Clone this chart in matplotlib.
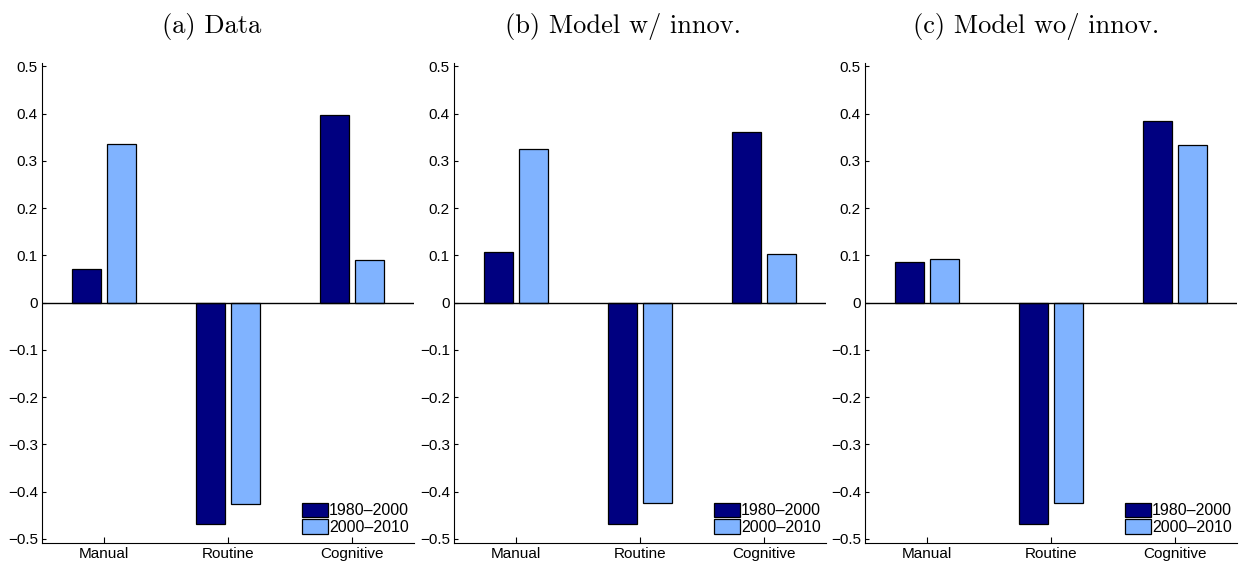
import numpy as np
import matplotlib.pyplot as plt

plt.rcParams['font.family'] = ['Liberation Sans', 'DejaVu Sans']

categories = ['Manual', 'Routine', 'Cognitive']
series = ['1980–2000', '2000–2010']
titles = ['(a) Data', '(b) Model w/ innov.', '(c) Model wo/ innov.']
yticks = [-0.5, -0.4, -0.3, -0.2, -0.1, 0, 0.1, 0.2, 0.3, 0.4, 0.5]
ytick_labels = ['\u22120.5', '\u22120.4', '\u22120.3', '\u22120.2', '\u22120.1', '0',
                '0.1', '0.2', '0.3', '0.4', '0.5']

data_8000 = [0.072, -0.468, 0.396]
data_0010 = [0.336, -0.426, 0.090]
innov_8000 = [0.108, -0.468, 0.360]
innov_0010 = [0.325, -0.425, 0.102]
noinnov_8000 = [0.085, -0.468, 0.384]
noinnov_0010 = [0.093, -0.425, 0.333]

panels = [(data_8000, data_0010),
          (innov_8000, innov_0010),
          (noinnov_8000, noinnov_0010)]

colors = ['#000080', '#80b3ff']

W, H = 1239, 564
fig = plt.figure(figsize=(W / 100, H / 100), dpi=100)

lefts = [42, 454, 865]
width_px = 372
top_px, bot_px = 63, 543
title_x = [212, 623, 1036]

x = np.arange(1, 4)
bw = 0.233
off = 0.142

for i in range(3):
    ax = fig.add_axes([lefts[i] / W, 1 - bot_px / H, width_px / W, (bot_px - top_px) / H])
    a, b = panels[i]
    ax.bar(x - off, a, bw, color=colors[0], edgecolor='black', linewidth=0.9, label=series[0], zorder=2)
    ax.bar(x + off, b, bw, color=colors[1], edgecolor='black', linewidth=0.9, label=series[1], zorder=2)
    ax.axhline(0, color='black', linewidth=1.0, zorder=3)
    ax.set_xlim(0.5, 3.5)
    ax.set_ylim(-0.509, 0.507)
    ax.set_yticks(yticks)
    ax.set_yticklabels(ytick_labels)
    ax.set_xticks(x)
    ax.set_xticklabels(categories)
    ax.tick_params(direction='in', labelsize=11, width=0.8)
    ax.tick_params(axis='y', length=3, pad=3)
    ax.tick_params(axis='x', length=4, pad=3)
    ax.spines['top'].set_visible(False)
    ax.spines['right'].set_visible(False)
    ax.legend(loc='lower right', bbox_to_anchor=(1.0, 0.007), frameon=False,
              fontsize=11.5, handlelength=1.6, handleheight=1.0, handletextpad=0.1,
              labelspacing=0.05, borderaxespad=0.3, borderpad=0.0)
    fig.text(title_x[i] / W, 1 - 26 / H, titles[i], ha='center', va='center',
             fontsize=19, family='cmr10')

plt.savefig('out.png', dpi=100)
